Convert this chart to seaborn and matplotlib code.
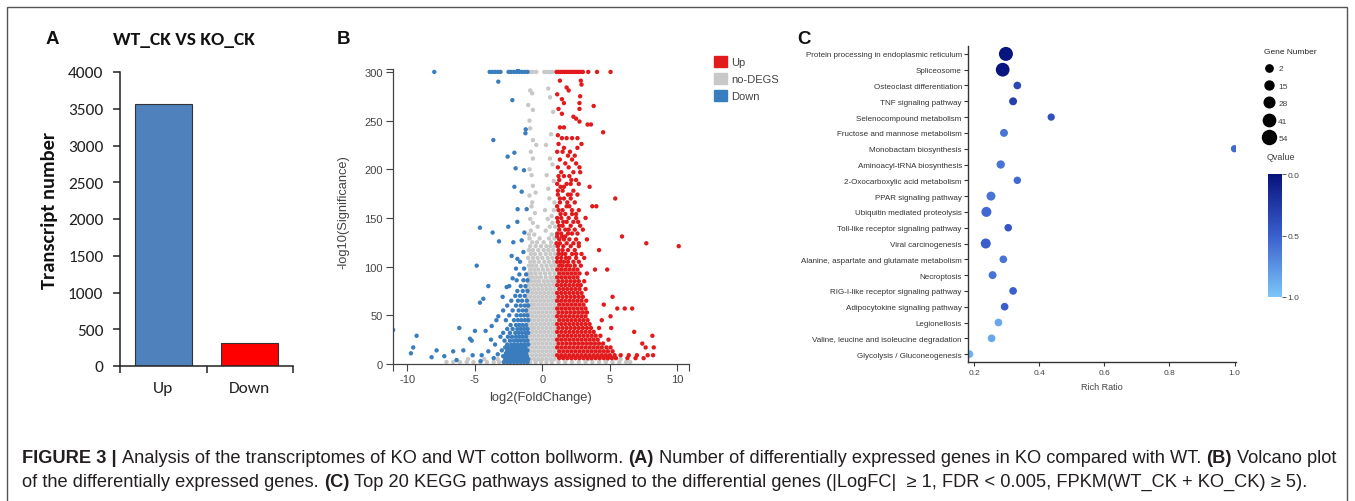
import pandas as pd
import matplotlib
matplotlib.use("Agg")
import matplotlib.pyplot as plt
import seaborn as sns
from matplotlib import font_manager as fm
from matplotlib.patches import Patch, Rectangle
from matplotlib.lines import Line2D
from matplotlib.colors import LinearSegmentedColormap, Normalize
from matplotlib.cm import ScalarMappable

# ---------------- data ----------------
# panel A
bar_labels = ["Up", "Down"]
bar_values = [3570, 315]

# panel B: volcano points, rows of (-log10 significance, [log2 fold changes])
nodeg_rows = [
    (300, [-0.9, -0.7, -0.45, 0.15, 0.35, 0.55, 0.75]),
    (283, [0.44]), (281, [-0.9]), (278, [-0.75]), (274, [0.57]),
    (266, [-1.05]), (261, [-0.7]), (259, [0.8]), (250, [-0.95]),
    (242, [-0.9]), (236, [0.65]), (230, [-0.7]), (225, [-0.45, 0.27]),
    (218, [-0.85]), (211, [-0.7, 0.57]), (205, [0.75]), (200, [-0.95]),
    (194, [-0.8, 0.32]), (188, [0.85]), (183, [-0.7]), (180, [0.44]),
    (176, [-0.5]), (173, [-0.95]), (170, [0.52]), (166, [-0.75, 0.9]),
    (162, [-0.8]), (158, [0.2, 0.85]), (155, [-0.55]), (152, [0.69]),
    (149, [-0.9, 0.4]), (145, [-0.7, 0.75]), (141, [-0.35, 0.55, 0.95]),
    (137, [-0.85, 0.25]), (133, [-1.0, -0.6, 0.7]), (129, [-0.95, -0.2, 0.5, 0.9]),
    (125, [-0.75, -0.4, 0.1, 0.65]),
    (121, [-0.9, -0.5, -0.1, 0.3, 0.6, 0.9]),
    (117, [-1.0, -0.7, -0.3, 0.1, 0.45, 0.8]),
    (113, [-0.85, -0.55, -0.15, 0.25, 0.6, 0.95]),
    (109, [-1.05, -0.7, -0.35, 0.0, 0.4, 0.75]),
    (105, [-0.9, -0.6, -0.25, 0.15, 0.5, 0.85]),
    (101, [-1.0, -0.75, -0.45, -0.05, 0.3, 0.65, 0.95]),
    (97, [-0.9, -0.6, -0.3, 0.05, 0.4, 0.75]),
    (93, [-1.05, -0.8, -0.5, -0.15, 0.2, 0.55, 0.9]),
    (89, [-0.95, -0.7, -0.4, -0.1, 0.25, 0.6, 0.85]),
    (85, [-1.1, -0.85, -0.55, -0.25, 0.1, 0.4, 0.7, 0.95]),
    (81, [-1.0, -0.7, -0.4, -0.1, 0.2, 0.5, 0.8]),
    (77, [-1.15, -0.9, -0.6, -0.3, 0.0, 0.3, 0.6, 0.9]),
    (73, [-1.05, -0.75, -0.45, -0.15, 0.15, 0.45, 0.75, 1.0]),
    (69, [-1.15, -0.9, -0.6, -0.3, 0.0, 0.3, 0.6, 0.9]),
    (65, [-1.05, -0.75, -0.45, -0.15, 0.15, 0.45, 0.75, 1.0]),
    (61, [-1.1, -0.85, -0.6, -0.3, 0.0, 0.3, 0.6, 0.9]),
    (57, [-1.05, -0.75, -0.45, -0.15, 0.15, 0.45, 0.75, 1.0]),
    (53, [-1.15, -0.9, -0.6, -0.3, 0.0, 0.3, 0.6, 0.9]),
    (49, [-1.05, -0.75, -0.45, -0.15, 0.15, 0.45, 0.75, 1.0]),
    (45, [-1.15, -0.9, -0.6, -0.3, 0.0, 0.3, 0.6, 0.9]),
    (41, [-1.05, -0.75, -0.45, -0.15, 0.15, 0.45, 0.75, 1.0]),
    (37, [-1.1, -0.85, -0.6, -0.3, 0.0, 0.3, 0.6, 0.9]),
    (33, [-1.05, -0.75, -0.45, -0.15, 0.15, 0.45, 0.75, 1.0]),
    (29, [-1.15, -0.9, -0.6, -0.3, 0.0, 0.3, 0.6, 0.9]),
    (25, [-1.05, -0.75, -0.45, -0.15, 0.15, 0.45, 0.75, 1.0]),
    (21, [-1.15, -0.9, -0.6, -0.3, 0.0, 0.3, 0.6, 0.9]),
    (17, [-1.05, -0.75, -0.45, -0.15, 0.15, 0.45, 0.75, 1.0]),
    (13, [-1.15, -0.9, -0.6, -0.3, 0.0, 0.3, 0.6, 0.9]),
    (9, [-1.05, -0.75, -0.45, -0.15, 0.15, 0.45, 0.75, 1.0]),
    (5, [-5.5, -4.3, -3.3, -1.15, -0.9, -0.6, -0.3, 0.0, 0.3, 0.6, 0.9, 3.4, 4.8, 5.8]),
    (2, [-7.1, -6.6, -6.1, -5.6, -5.1, -4.6, -4.1, -3.6, -3.2, -0.9, -0.5, -0.1, 0.3, 0.7,
         1.2, 1.7, 2.2, 2.7, 3.2, 3.7, 4.2, 4.7, 5.2, 5.7, 6.2, 6.5]),
]

down_rows = [
    (300, [-8.0, -3.9, -3.7, -3.5, -3.3, -3.1, -2.5, -2.3, -2.1, -1.9, -1.7, -1.5, -1.3, -1.1]),
    (302, [-1.8]),
    (290, [-3.26]), (271, [-2.22]), (241, [-1.23]), (237, [-1.25]), (230, [-3.63]),
    (217, [-2.07]), (213, [-2.57]), (201, [-1.98]), (199, [-1.36]),
    (182, [-2.07]), (177, [-1.53]), (159, [-1.83, -1.16]),
    (146, [-1.85]), (141, [-2.52]), (140, [-4.62]), (135, [-3.68, -1.33]),
    (127, [-1.53]), (126, [-3.21]), (125, [-2.15]), (115, [-1.4]),
    (111, [-2.27]), (108, [-1.85]), (105, [-1.65]), (101, [-4.86]),
    (98, [-1.95, -1.35]), (92, [-1.7, -1.2]), (88, [-2.2]), (86, [-1.9, -1.4, -1.1]),
    (80, [-4.0, -2.45, -1.6, -1.25]), (79, [-2.64]), (75, [-1.85, -1.45, -1.1]),
    (70, [-2.0, -1.65, -1.3]), (69, [-2.94]), (67, [-4.37]), (65, [-2.3, -1.8, -1.5, -1.15]),
    (63, [-4.62]), (60, [-2.6, -1.95, -1.6, -1.3, -1.05]), (55, [-2.9, -2.2, -1.75, -1.45, -1.2]),
    (50, [-2.45, -1.9, -1.6, -1.35, -1.1]), (49, [-3.26]),
    (45, [-3.4, -2.7, -2.1, -1.8, -1.55, -1.3, -1.05]),
    (40, [-2.35, -1.95, -1.7, -1.45, -1.2]), (39, [-3.75]), (37, [-6.15]),
    (36, [-2.6, -2.2, -1.85, -1.6, -1.35, -1.1]), (35, [-11.05]), (34, [-4.99, -4.2]),
    (32, [-2.9, -2.4, -2.0, -1.75, -1.5, -1.25, -1.05]), (29, [-9.31]),
    (28, [-3.1, -2.55, -2.25, -1.95, -1.7, -1.45, -1.2]), (26, [-5.36]), (25, [-3.8]),
    (24, [-5.23, -2.8, -2.4, -2.1, -1.85, -1.6, -1.35, -1.1]),
    (20, [-3.5, -2.6, -2.3, -2.05, -1.8, -1.55, -1.3, -1.05]),
    (17, [-9.56, -2.75, -2.5, -2.25, -2.0, -1.75, -1.5, -1.25]),
    (14, [-7.83, -5.85, -3.0, -2.6, -2.35, -2.1, -1.85, -1.6, -1.35, -1.1]),
    (13, [-6.6, -4.0]),
    (11, [-9.73, -2.7, -2.45, -2.2, -1.95, -1.7, -1.45, -1.2]),
    (10, [-3.3]),
    (9, [-5.16, -4.49]),
    (8, [-7.26, -2.9, -2.65, -2.4, -2.15, -1.9, -1.65, -1.4, -1.15]),
    (7, [-8.2]),
    (6, [-3.6]),
    (5, [-2.75, -2.5, -2.25, -2.0, -1.75, -1.5, -1.25, -1.05]),
    (4, [-6.35]),
    (3, [-4.57]),
    (2, [-2.85, -2.6, -2.35, -2.1, -1.85, -1.6, -1.35, -1.1]),
]

up_rows = [
    (300, [1.05, 1.2, 1.35, 1.5, 1.65, 1.8, 1.95, 2.1, 2.25, 2.4, 2.55, 2.7, 2.85, 3.0, 3.4, 4.05, 5.05]),
    (291, [1.3, 2.85]), (287, [2.9]), (284, [1.8]), (281, [1.95]), (277, [1.1]),
    (275, [2.8]), (272, [1.45]), (268, [1.6, 2.75]), (265, [3.8]), (262, [1.2, 2.75]),
    (257, [1.45]), (254, [2.3]), (252, [2.5]), (249, [2.75]), (246, [3.35, 3.6]),
    (243, [1.3, 1.6]), (238, [4.5]), (235, [1.15]), (232, [1.45, 1.8, 2.2, 2.6]),
    (226, [1.2, 2.9]), (222, [1.6, 2.6]), (218, [1.1, 1.5, 2.05]), (214, [1.9, 2.4]),
    (210, [1.3, 2.2]), (206, [1.7, 2.5]), (202, [1.15, 1.95, 2.75]), (197, [1.4, 2.3, 2.8]),
    (193, [1.2, 1.6, 2.0]), (189, [1.25, 2.15, 2.5]), (185, [1.1, 1.8, 2.1, 2.7]),
    (182, [1.35, 1.6, 3.5]), (178, [1.15, 1.5, 2.3]), (174, [1.15, 1.9, 2.1, 2.6]),
    (170, [1.3, 1.6, 2.1, 5.4]), (166, [1.3, 1.85, 2.4]), (162, [1.1, 1.8, 2.0, 3.7, 4.0]),
    (158, [1.2, 1.5, 2.2, 2.7]), (154, [1.35, 1.7, 2.2, 2.5]), (150, [1.1, 1.4, 1.95, 2.5, 3.2]),
    (146, [1.15, 1.55, 1.8, 2.3, 2.65]), (142, [1.25, 1.5, 2.1, 2.8]),
    (138, [1.25, 1.7, 1.95, 2.4, 3.0]), (134, [1.1, 1.4, 1.9, 2.2, 2.6]),
    (131, [1.1, 1.45, 1.7, 5.9]), (128, [1.25, 1.6, 2.0, 2.5, 3.3]),
    (124, [1.05, 1.3, 1.8, 2.3, 2.7, 7.7]), (121, [1.15, 1.55, 2.1, 2.7, 10.1]),
    (117, [1.2, 1.5, 1.9, 2.4, 4.2]), (113, [1.2, 1.45, 1.7, 2.2, 2.5, 2.9]),
    (109, [1.1, 1.4, 1.75, 2.0, 2.5, 3.1]), (105, [1.1, 1.35, 1.6, 1.9, 2.3, 2.7]),
    (101, [1.25, 1.5, 1.8, 2.05, 2.4, 2.85]),
    (97, [1.1, 1.4, 1.7, 2.0, 2.3, 2.6, 3.9, 4.8]),
    (93, [1.25, 1.55, 1.85, 2.15, 2.45, 2.75, 3.3]),
    (89, [1.1, 1.4, 1.7, 2.0, 2.3, 2.6]),
    (85, [1.2, 1.5, 1.8, 2.1, 2.4, 2.7, 3.1]),
    (81, [1.1, 1.4, 1.7, 2.0, 2.3, 2.6, 2.85]),
    (77, [1.25, 1.55, 1.85, 2.15, 2.45, 2.75, 3.2]),
    (73, [1.1, 1.4, 1.7, 2.0, 2.3, 2.6, 2.9]),
    (69, [1.2, 1.5, 1.8, 2.1, 2.4, 2.7, 3.0, 5.2]),
    (65, [1.1, 1.4, 1.7, 2.0, 2.3, 2.6, 2.9, 3.25]),
    (61, [1.25, 1.55, 1.85, 2.15, 2.45, 2.75, 3.05, 4.55]),
    (57, [1.1, 1.4, 1.7, 2.0, 2.3, 2.6, 2.9, 3.2, 5.55, 6.1, 6.65]),
    (53, [1.2, 1.5, 1.8, 2.1, 2.4, 2.7, 3.0, 3.3]),
    (49, [1.1, 1.4, 1.7, 2.0, 2.3, 2.6, 2.9, 3.2, 5.05]),
    (45, [1.25, 1.55, 1.85, 2.15, 2.45, 2.75, 3.05, 3.35, 4.4]),
    (41, [1.1, 1.4, 1.7, 2.0, 2.3, 2.6, 2.9, 3.2, 3.5]),
    (37, [1.2, 1.5, 1.8, 2.1, 2.4, 2.7, 3.0, 3.3, 3.6, 4.2, 5.1]),
    (33, [1.1, 1.4, 1.7, 2.0, 2.3, 2.6, 2.9, 3.2, 3.5, 3.8, 6.8]),
    (29, [1.25, 1.55, 1.85, 2.15, 2.45, 2.75, 3.05, 3.35, 3.65, 3.95, 4.3, 8.15]),
    (25, [1.1, 1.4, 1.7, 2.0, 2.3, 2.6, 2.9, 3.2, 3.5, 3.8, 4.1, 4.9]),
    (21, [1.2, 1.5, 1.8, 2.1, 2.4, 2.7, 3.0, 3.3, 3.6, 3.9, 4.2, 4.5, 7.4]),
    (17, [1.1, 1.4, 1.7, 2.0, 2.3, 2.6, 2.9, 3.2, 3.5, 3.8, 4.1, 4.4, 4.75, 5.05, 7.65, 8.25]),
    (13, [1.25, 1.55, 1.85, 2.15, 2.45, 2.75, 3.05, 3.35, 3.65, 3.95, 4.25, 4.55, 4.85, 5.2]),
    (9, [1.1, 1.4, 1.7, 2.0, 2.3, 2.6, 2.9, 3.2, 3.5, 3.8, 4.1, 4.4, 4.7, 5.0, 5.35, 5.8,
         6.4, 7.0, 7.8, 8.2]),
    (6, [1.25, 1.55, 1.85, 2.15, 2.45, 2.75, 3.05, 3.35, 3.65, 3.95, 4.25, 4.55, 4.85, 5.15,
         5.45, 6.3, 6.9, 7.5]),
]
volcano_groups = ["no-DEGS", "Down", "Up"]
volcano_colors = {"Up": "#e31a1c", "no-DEGS": "#c8c8c8", "Down": "#3a7dbf"}

# panel C: KEGG enrichment
kegg_pathways = [
    "Protein processing in endoplasmic reticulum", "Spliceosome",
    "Osteoclast differentiation", "TNF signaling pathway",
    "Selenocompound metabolism", "Fructose and mannose metabolism",
    "Monobactam biosynthesis", "Aminoacyl-tRNA biosynthesis",
    "2-Oxocarboxylic acid metabolism", "PPAR signaling pathway",
    "Ubiquitin mediated proteolysis", "Toll-like receptor signaling pathway",
    "Viral carcinogenesis", "Alanine, aspartate and glutamate metabolism",
    "Necroptosis", "RIG-I-like receptor signaling pathway",
    "Adipocytokine signaling pathway", "Legionellosis",
    "Valine, leucine and isoleucine degradation", "Glycolysis / Gluconeogenesis",
]
rich_ratio = [0.298, 0.288, 0.333, 0.320, 0.437, 0.292, 1.000, 0.282, 0.333, 0.252,
              0.238, 0.305, 0.236, 0.290, 0.257, 0.320, 0.294, 0.275, 0.254, 0.186]
gene_number = [54, 52, 5, 7, 2, 7, 2, 10, 3, 15, 23, 4, 23, 5, 7, 5, 5, 5, 5, 5]
q_value = [0.02, 0.03, 0.35, 0.30, 0.40, 0.60, 0.55, 0.60, 0.55, 0.60,
           0.55, 0.45, 0.50, 0.60, 0.60, 0.50, 0.50, 0.85, 0.85, 0.90]
size_levels = [2, 15, 28, 41, 54]
q_ticks = [0.0, 0.5, 1.0]

caption_line1 = [("FIGURE 3 |", True),
                 ("Analysis of the transcriptomes of KO and WT cotton bollworm.", False),
                 ("(A)", True),
                 ("Number of differentially expressed genes in KO compared with WT.", False),
                 ("(B)", True), ("Volcano plot", False)]
caption_line2 = [("of the differentially expressed genes.", False), ("(C)", True),
                 ("Top 20 KEGG pathways assigned to the differential genes "
                  "(|LogFC|  \u2265 1, FDR < 0.005, FPKM(WT_CK + KO_CK) \u2265 5).", False)]

# ---------------- style ----------------
sns.set_style("ticks")
avail = {f.name for f in fm.fontManager.ttflist}


def pick(*names):
    for n in names:
        if n in avail:
            return n
    return "DejaVu Sans"


font_a = pick("Carlito", "Lato", "Open Sans")
font_b = pick("Liberation Sans", "Arial", "DejaVu Sans")
font_cap = pick("Liberation Sans Narrow", "Liberation Sans")
plt.rcParams["font.family"] = [font_b, "DejaVu Sans"]
plt.rcParams["axes.unicode_minus"] = False

W, H = 1355, 502
fig = plt.figure(figsize=(W / 100, H / 100), dpi=100)


def fx(px):
    return px / W


def fy(py):
    return 1 - py / H


def axes_px(left, top, right, bottom):
    return fig.add_axes([fx(left), fy(bottom), (right - left) / W, (bottom - top) / H])


# ---------------- panel A ----------------
ax_a = axes_px(120, 73, 293, 367)
sns.barplot(x=bar_labels, y=bar_values, hue=bar_labels,
            palette=["#4f81bd", "#ff0000"], saturation=1, legend=False, width=0.66,
            edgecolor="#333333", linewidth=0.8, ax=ax_a)
ax_a.set_xlim(-0.5, 1.5)
ax_a.set_ylim(0, 4000)
ax_a.set_yticks(range(0, 4001, 500))
ax_a.set_xticks([-0.5, 0.5, 1.5], minor=True)
ax_a.tick_params(axis="x", which="major", length=0, pad=11, labelsize=12.5)
ax_a.tick_params(axis="x", which="minor", length=5, width=1.1, color="#222222")
ax_a.tick_params(axis="y", length=5, width=1.1, pad=7, labelsize=12.5, color="#222222")
for lab in ax_a.get_xticklabels() + ax_a.get_yticklabels():
    lab.set_family(font_a)
    lab.set_color("#222222")
ax_a.set_xlabel("")
ax_a.set_ylabel("")
sns.despine(ax=ax_a)
for sp in ["left", "bottom"]:
    ax_a.spines[sp].set_linewidth(1.1)
    ax_a.spines[sp].set_color("#222222")
fig.text(fx(184), fy(40), "WT_CK VS KO_CK", family=font_a, fontweight="bold",
         fontsize=14, ha="center", va="center", color="#111111")
fig.text(fx(50), fy(210), "Transcript number", family=font_a, fontweight="bold",
         fontsize=14.8, rotation=90, ha="center", va="center", color="#111111")

# ---------------- panel B ----------------
recs = []
for group, rows in [("no-DEGS", nodeg_rows), ("Down", down_rows), ("Up", up_rows)]:
    for yv, xs in rows:
        for xv in xs:
            recs.append({"log2fc": xv, "sig": yv, "group": group})
volcano = pd.DataFrame(recs)

ax_b = axes_px(392.7, 70, 689, 365)
sns.scatterplot(data=volcano, x="log2fc", y="sig", hue="group", hue_order=volcano_groups,
                palette=volcano_colors, s=10, linewidth=0, legend=False, ax=ax_b)
ax_b.set_xlim(-11.08, 10.86)
ax_b.set_ylim(0, 303)
ax_b.set_xticks([-10, -5, 0, 5, 10])
ax_b.set_xticks([-11.08, 10.86], minor=True)
ax_b.set_yticks(range(0, 301, 50))
ax_b.set_yticks([303], minor=True)
ax_b.tick_params(which="both", length=5, width=0.8, color="#444444", labelsize=8,
                 labelcolor="#444444", pad=2)
ax_b.set_xlabel("")
ax_b.set_ylabel("")
sns.despine(ax=ax_b)
for sp in ["left", "bottom"]:
    ax_b.spines[sp].set_linewidth(0.9)
    ax_b.spines[sp].set_color("#444444")
fig.text(fx(540), fy(398), "log2(FoldChange)", fontsize=9.3, ha="center", va="center",
         color="#444444")
fig.text(fx(343), fy(212), "-log10(Significance)", fontsize=9.3, rotation=90,
         ha="center", va="center", color="#444444")
fig.legend(handles=[Patch(color=volcano_colors[g], label=g) for g in ["Up", "no-DEGS", "Down"]],
           loc="upper left", bbox_to_anchor=(fx(714), fy(57)), frameon=False, fontsize=8,
           handlelength=1.15, handleheight=1.15, handletextpad=0.4, labelspacing=0.5,
           borderpad=0, borderaxespad=0, labelcolor="#444444")

# ---------------- panel C ----------------
kegg = pd.DataFrame({"pathway": kegg_pathways, "ratio": rich_ratio,
                     "genes": gene_number, "qvalue": q_value})
q_cmap = LinearSegmentedColormap.from_list("q", ["#07127c", "#3a5fcd", "#7cc6f7"])


def dot_area(n):
    d = 7.3 + (n - 2) * 6.7 / 52  # diameter in px
    return (d * 0.72) ** 2


ax_c = axes_px(968, 47, 1236, 363)
sns.scatterplot(data=kegg, x="ratio", y="pathway", size="genes",
                sizes={n: dot_area(n) for n in kegg["genes"].unique()},
                hue="qvalue", palette=q_cmap, hue_norm=(0, 1), linewidth=0,
                legend=False, ax=ax_c)
ax_c.set_xlim(0.1815, 1.0046)
ax_c.set_ylim(19.5, -0.5)
ax_c.set_xticks([0.2, 0.4, 0.6, 0.8, 1.0])
ax_c.set_xticklabels(["0.2", "0.4", "0.6", "0.8", "1.0"])
ax_c.tick_params(axis="y", length=3, width=0.8, pad=1.5, labelsize=5.8,
                 color="#333333", labelcolor="#333333")
ax_c.tick_params(axis="x", length=3, width=0.8, pad=2, labelsize=6,
                 color="#333333", labelcolor="#444444")
ax_c.set_xlabel("")
ax_c.set_ylabel("")
sns.despine(ax=ax_c)
for sp in ["left", "bottom"]:
    ax_c.spines[sp].set_linewidth(1.0)
    ax_c.spines[sp].set_color("#333333")
fig.text(fx(1102), fy(388), "Rich Ratio", fontsize=6.5, ha="center", va="center",
         color="#444444")

size_handles = [Line2D([], [], marker="o", linestyle="", color="black",
                       markersize=dot_area(n) ** 0.5, label=str(n)) for n in size_levels]
fig.legend(handles=size_handles, title="Gene Number", loc="upper left",
           bbox_to_anchor=(fx(1264), fy(49)), frameon=False, fontsize=6,
           title_fontsize=6, alignment="left", labelspacing=1.15, handletextpad=0.5,
           handlelength=1.2, borderpad=0, borderaxespad=0, labelcolor="#444444")

cax = axes_px(1268, 175, 1282, 298)
cb = fig.colorbar(ScalarMappable(norm=Normalize(0, 1), cmap=q_cmap), cax=cax)
cb.set_ticks(q_ticks)
cb.set_ticklabels([f"{t:.1f}" for t in q_ticks])
cb.ax.invert_yaxis()
cb.outline.set_visible(False)
cb.ax.tick_params(labelsize=6, length=3, width=0.6, colors="#444444", pad=1)
fig.text(fx(1267), fy(158), "Qvalue", fontsize=6.5, ha="left", va="center", color="#444444")

# panel letters
for letter, px, py in [("A", 52, 40), ("B", 343, 40), ("C", 804, 40)]:
    fig.text(fx(px), fy(py), letter, fontsize=13.5, fontweight="bold",
             ha="center", va="center", color="#111111")

# outer frame
fig.add_artist(Rectangle((fx(7), fy(520)), (1347 - 7) / W, (520 - 8) / H,
                         transform=fig.transFigure, fill=False,
                         edgecolor="#555555", linewidth=1))

# ---------------- caption ----------------
renderer = fig.canvas.get_renderer()


def draw_line(parts, x0, base, size):
    arts = []
    probe = fig.text(0, 0, "a a", fontsize=size, family=font_cap)
    probe2 = fig.text(0, 0, "aa", fontsize=size, family=font_cap)
    gap = probe.get_window_extent(renderer).width - probe2.get_window_extent(renderer).width
    probe.remove()
    probe2.remove()
    x = x0
    for txt, bold in parts:
        t = fig.text(fx(x), fy(base), txt, fontsize=size, family=font_cap,
                     fontweight="bold" if bold else "normal", color="#231f20",
                     ha="left", va="baseline")
        arts.append(t)
        x += t.get_window_extent(renderer).width + gap
    return x - gap - x0, arts


w1, tmp = draw_line(caption_line1, 22, 463, 10)
for t in tmp:
    t.remove()
cap_size = 10 * (1338 - 22) / w1
draw_line(caption_line1, 22, 463, cap_size)
draw_line(caption_line2, 22, 487, cap_size)

fig.savefig("out.png", dpi=100)
